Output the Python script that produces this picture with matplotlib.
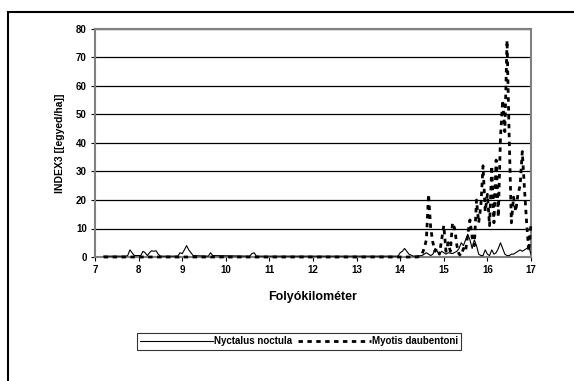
import matplotlib.pyplot as plt
from matplotlib.patches import Rectangle

plt.rcParams['font.family'] = ['Liberation Sans', 'DejaVu Sans']
plt.rcParams['font.weight'] = 'bold'

# Nyctalus noctula (solid line)
nyc_x = [7.2, 7.7, 7.75, 7.8, 7.85, 7.9, 8.05, 8.1, 8.15, 8.2, 8.25, 8.3, 8.35, 8.4, 8.45, 8.5,
         8.9, 8.95, 9.0, 9.05, 9.1, 9.15, 9.2, 9.25, 9.6, 9.65, 9.7, 10.55, 10.6, 10.65, 10.7,
         13.95, 14.0, 14.05, 14.1, 14.15, 14.2, 14.3, 14.5, 14.6, 14.7, 14.75, 14.8, 14.85, 14.9,
         14.95, 15.0, 15.05, 15.1, 15.2, 15.3, 15.35, 15.4, 15.45, 15.5, 15.55, 15.6, 15.65, 15.7,
         15.75, 15.8, 15.85, 15.9, 15.95, 16.0, 16.05, 16.1, 16.15, 16.2, 16.25, 16.3, 16.35, 16.4,
         16.45, 16.5, 16.55, 16.6, 16.65, 16.7, 16.75, 16.8, 16.85, 16.9, 16.95, 17.0]
nyc_y = [0.3, 0.3, 0.5, 2.5, 1.5, 0.5, 0.5, 2.0, 1.5, 0.5, 1.5, 2.2, 2.0, 2.2, 1.0, 0.3,
         0.3, 1.5, 1.2, 2.5, 4.0, 2.5, 1.5, 0.5, 0.3, 1.5, 0.5, 0.3, 1.2, 1.5, 0.3,
         0.3, 1.5, 2.0, 3.0, 2.0, 1.0, 0.3, 0.5, 1.5, 0.5, 1.0, 3.0, 2.0, 1.0,
         2.0, 1.5, 1.0, 1.5, 1.2, 2.0, 3.0, 5.0, 4.0, 6.0, 8.0, 6.0, 3.0, 6.0,
         4.0, 1.0, 0.5, 0.5, 2.5, 1.0, 0.5, 2.5, 1.0, 1.5, 3.0, 5.0, 3.0, 1.0,
         0.5, 0.5, 1.0, 1.0, 1.5, 2.0, 2.5, 2.0, 2.5, 3.0, 3.5, 1.0]

# Myotis daubentoni (dashed line)
myo_x = [7.2, 14.4, 14.45, 14.5, 14.55, 14.6, 14.65, 14.7, 14.75, 14.8, 14.85, 14.9, 14.95, 15.0,
         15.05, 15.1, 15.15, 15.2, 15.25, 15.3, 15.35, 15.4, 15.45, 15.5, 15.55, 15.6, 15.65, 15.7,
         15.75, 15.8, 15.85, 15.9, 15.95, 16.0, 16.05, 16.1, 16.15, 16.2, 16.25, 16.3, 16.35, 16.4,
         16.45, 16.5, 16.55, 16.6, 16.65, 16.7, 16.75, 16.8, 16.85, 16.9, 16.95, 17.0]
myo_y = [0, 0, 0.5, 1, 3, 6, 22, 10, 5, 2, 3, 1, 6, 11,
         2, 5, 2, 12, 10, 4, 1, 0.5, 3, 2, 8, 13, 7, 4,
         20, 12, 18, 32, 16, 22, 11, 32, 12, 34, 14, 42, 55, 44,
         76, 42, 12, 21, 16, 22, 25, 37, 24, 12, 2, 12]

fig = plt.figure(figsize=(5.74, 3.81), dpi=100)
ax = fig.add_axes([95 / 574, 1 - 257 / 381, 436 / 574, 228 / 381])

ax.plot(nyc_x, nyc_y, color='black', lw=0.8, label='Nyctalus noctula', zorder=3)
ax.plot(myo_x, myo_y, color='black', lw=2.0, linestyle=(0, (1.6, 1.6)),
        label='Myotis daubentoni', clip_on=False, zorder=4)

ax.set_xlim(7, 17)
ax.set_ylim(0, 80)
ax.set_xticks(range(7, 18))
ax.set_yticks(range(0, 81, 10))
ax.yaxis.grid(True, color='black', lw=0.9)
ax.set_axisbelow(True)
for s in ax.spines.values():
    s.set_color('#808080')
    s.set_linewidth(1.5)
ax.tick_params(direction='out', length=3, width=0.8, color='black', labelsize=7, pad=3)

ax.set_xlabel('Folyókilométer', fontsize=9, fontweight='bold', va='center')
ax.xaxis.set_label_coords(0.5, -0.175)
ax.set_ylabel('INDEX3 [[egyed/ha]]', fontsize=7.5, fontweight='bold', va='center')
ax.yaxis.set_label_coords(-0.08, 0.5)

leg = ax.legend(loc='center', bbox_to_anchor=(0.521, 0.104), bbox_transform=fig.transFigure,
                ncol=2, fontsize=7, frameon=True, fancybox=False, handlelength=7.5,
                handletextpad=0.1, columnspacing=0.6, borderpad=0.35, borderaxespad=0)
leg.get_frame().set_edgecolor('black')
leg.get_frame().set_linewidth(0.8)
for t in leg.get_texts():
    t.set_fontweight('bold')

# outer frame of the figure (top and left edges visible)
fig.add_artist(Rectangle((8 / 574, -0.1), 1.0, 1.1 - 12 / 381, transform=fig.transFigure,
                         fill=False, edgecolor='black', lw=1.5))

fig.savefig('out.png', dpi=100)
